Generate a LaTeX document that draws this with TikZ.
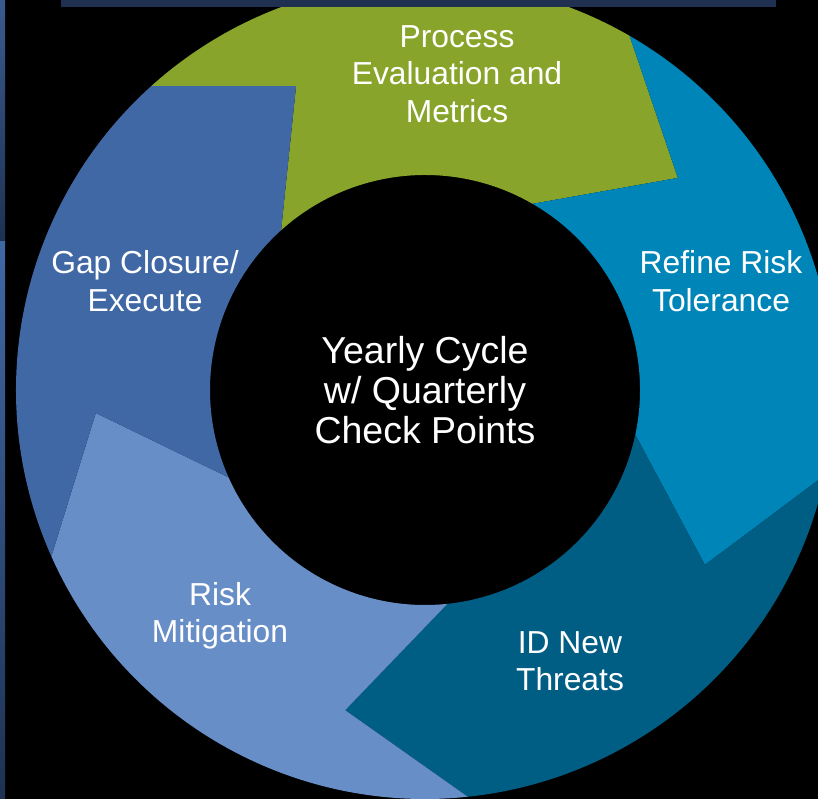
\documentclass[tikz,border=0pt]{standalone}
\usepackage{fontspec}
\setmainfont{Liberation Sans}
\definecolor{segGreen}{HTML}{89A42A}
\definecolor{segRefine}{HTML}{0085B8}
\definecolor{segThreat}{HTML}{005E84}
\definecolor{segMitig}{HTML}{678EC6}
\definecolor{segGap}{HTML}{4068A5}
\definecolor{barNavy}{HTML}{1F3050}
\definecolor{stripTop}{HTML}{3A5A8E}
\definecolor{stripDark}{HTML}{1E3152}
% #1 colour, #2 tail angle, #3 head angle, #4 head tip offset, #5 tail notch offset
\newcommand\ringseg[5]{%
  \fill[#1] (#2:409) arc[start angle=#2, end angle=#3, radius=409]
    -- ({#3-#4}:330) -- (#3:215)
    arc[start angle=#3, end angle=#2, radius=215]
    -- ({#2-#5}:330) -- cycle;}
\begin{document}
\begin{tikzpicture}[x=1pt,y=1pt,
  lbl/.style={text=white, align=center, inner sep=0pt, font=\fontsize{31.8}{37.5}\selectfont},
  ctr/.style={text=white, align=center, inner sep=0pt, font=\fontsize{37.5}{40}\selectfont}]
\fill[black] (0,0) rectangle (818,799);
\useasboundingbox (0,0) rectangle (818,799);
\begin{scope}
  \clip (0,0) rectangle (818,799);
  \begin{scope}[shift={(425,409)}]
    \ringseg{segGreen}{132}{60}{20}{19}
    \ringseg{segRefine}{60}{-12}{20}{20}
    \ringseg{segThreat}{-12}{-84}{20}{20}
    \ringseg{segMitig}{-84}{-156}{20}{20}
    \ringseg{segGap}{204}{132}{19}{20}
  \end{scope}
  % top bar and left stripes
  \fill[barNavy] (61,791.5) rectangle (776,800);
  \shade[top color=stripTop, bottom color=stripDark] (0,557) rectangle (5,800);
  \shade[top color=segGap, bottom color=stripDark] (0,-1) rectangle (5,557);
\end{scope}
\node[lbl] (process) at (457,725) {Process\\Evaluation and\\Metrics};
\node[lbl] (refine) at (721,518) {Refine Risk\\Tolerance};
\node[lbl] (threats) at (570,138) {ID New\\Threats};
\node[lbl] (mitig) at (220,183) {Risk\\Mitigation};
\node[lbl] (gap) at (145,518) {Gap Closure/\\Execute};
\node[ctr] (center) at (425,409) {Yearly Cycle\\w/ Quarterly\\Check Points};
\end{tikzpicture}
\end{document}
